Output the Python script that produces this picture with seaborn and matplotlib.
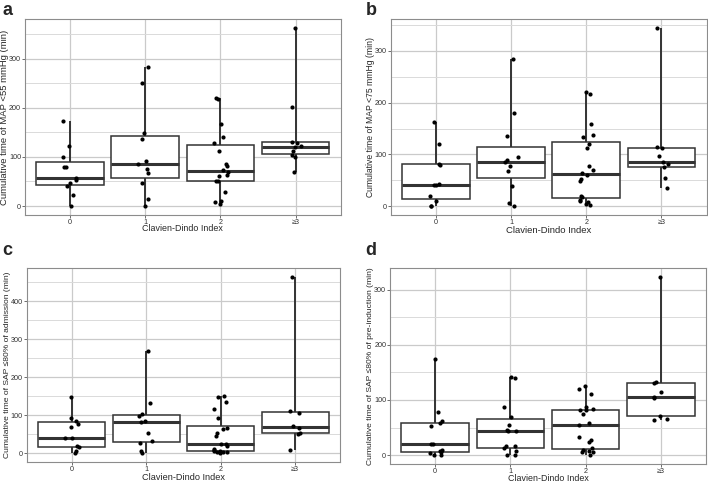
import numpy as np
import pandas as pd
import matplotlib
matplotlib.use("Agg")
import matplotlib.pyplot as plt
from matplotlib.ticker import MultipleLocator
import seaborn as sns

# categories on the x axis
grades = ["0", "1", "2", "≥3"]

# cumulative minutes per Clavien-Dindo group
map55 = [
    [0, 22, 40, 47, 53, 58, 79, 80, 100, 122, 173],
    [0, 14, 47, 68, 76, 85, 92, 136, 148, 251, 284],
    [5, 9, 11, 28, 52, 52, 61, 64, 69, 74, 82, 86, 112, 128, 140, 168, 217, 220],
    [70, 100, 104, 112, 120, 122, 128, 130, 202, 363],
]
map75 = [
    [0, 0, 10, 19, 40, 41, 43, 80, 81, 121, 163],
    [0, 5, 39, 68, 77, 86, 90, 94, 136, 180, 285],
    [3, 4, 7, 10, 12, 17, 19, 49, 52, 61, 63, 70, 77, 112, 120, 134, 137, 158, 216, 221],
    [35, 54, 75, 82, 85, 97, 112, 114, 345],
]
sap_adm = [
    [0, 7, 16, 18, 39, 41, 69, 78, 84, 92, 148],
    [0, 5, 26, 32, 53, 83, 85, 98, 103, 133, 269],
    [0, 3, 4, 4, 6, 7, 9, 10, 18, 24, 25, 45, 53, 63, 66, 92, 117, 136, 148, 151],
    [8, 50, 53, 67, 72, 107, 111, 465],
]
sap_pre = [
    [0, 0, 3, 6, 7, 10, 20, 21, 53, 58, 61, 79, 175],
    [0, 0, 7, 12, 16, 16, 43, 44, 46, 54, 70, 87, 139, 142],
    [0, 5, 6, 8, 10, 13, 23, 28, 33, 54, 59, 74, 81, 82, 83, 87, 110, 120, 125],
    [63, 66, 71, 104, 105, 115, 131, 132, 323],
]

panels = [
    ("a", map55, "Cumulative time of MAP <55 mmHg (min)"),
    ("b", map75, "Cumulative time of MAP <75 mmHg (min)"),
    ("c", sap_adm, "Cumulative time of SAP ≤80% of admission (min)"),
    ("d", sap_pre, "Cumulative time of SAP ≤80% of pre-induction (min)"),
]

# axes rectangles (figure fraction)
rects = [
    [0.0353, 0.554, 0.446, 0.407],
    [0.552, 0.554, 0.446, 0.407],
    [0.038, 0.0415, 0.442, 0.4025],
    [0.551, 0.0373, 0.446, 0.4066],
]
letter_pos = [(0.003, 0.995), (0.516, 0.995), (0.003, 0.497), (0.516, 0.497)]
# the panels in the source were scaled a bit differently
ylab_size = [6.8, 6.2, 6.1, 6.1]
xlab_size = [6.4, 6.8, 6.6, 6.4]
ylab_x = [-0.052, -0.05, -0.05, -0.051]
xlab_y = [-0.048, -0.056, -0.055, -0.052]

sns.set_style("white")
plt.rcParams["font.family"] = ["Liberation Sans", "DejaVu Sans"]

np.random.seed(3)

fig = plt.figure(figsize=(7.08, 4.82), dpi=100)

for i, ((letter, groups, ylabel), rect, lp) in enumerate(zip(panels, rects, letter_pos)):
    # long format table
    df = pd.DataFrame({
        "grade": [g for g, vals in zip(grades, groups) for _ in vals],
        "minutes": [v for vals in groups for v in vals],
    })

    ax = fig.add_axes(rect)
    ax.set_axisbelow(True)

    sns.boxplot(
        data=df, x="grade", y="minutes", order=grades,
        whis=(0, 100), width=0.9, color="white",
        linecolor="#333333", linewidth=1.1,
        showcaps=False, showfliers=False,
        whiskerprops=dict(linewidth=1.4),
        medianprops=dict(linewidth=2.2),
        ax=ax,
    )
    sns.stripplot(
        data=df, x="grade", y="minutes", order=grades,
        color="black", size=3, jitter=0.1, ax=ax,
    )

    # ggplot-like expansion
    lo, hi = df["minutes"].min(), df["minutes"].max()
    pad = 0.05 * (hi - lo)
    ax.set_ylim(lo - pad, hi + pad)
    ax.set_xlim(-0.6, 3.6)

    ax.yaxis.set_major_locator(MultipleLocator(100))
    ax.yaxis.set_minor_locator(MultipleLocator(50))
    ax.grid(which="major", color="#cacaca", linewidth=0.9)
    ax.grid(which="minor", axis="y", color="#dadada", linewidth=0.7)

    for sp in ax.spines.values():
        sp.set_color("#8c8c8c")
        sp.set_linewidth(0.8)

    ax.tick_params(which="major", length=2, width=0.6, color="#555555",
                   labelsize=5.2, labelcolor="#333333", pad=0.8,
                   bottom=True, left=True)
    ax.tick_params(which="minor", length=0)

    ax.set_xlabel("Clavien-Dindo Index", fontsize=xlab_size[i])
    ax.set_ylabel(ylabel, fontsize=ylab_size[i])
    ax.xaxis.set_label_coords(0.5, xlab_y[i])
    ax.yaxis.set_label_coords(ylab_x[i], 0.5)

    fig.text(lp[0], lp[1], letter, fontsize=13, fontweight="bold",
             ha="left", va="top")

fig.savefig("out.png", dpi=100)
